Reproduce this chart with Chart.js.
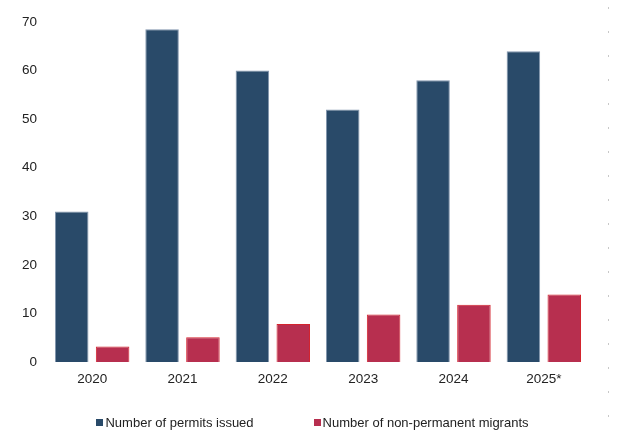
<!DOCTYPE html>
<html>
<head>
<meta charset="utf-8">
<script src="https://cdn.jsdelivr.net/npm/chart.js@4"></script>
<style>
  html, body { margin: 0; padding: 0; background: #fff; }
  #wrap { position: relative; width: 619px; height: 435px; overflow: hidden; }
  #rule {
    position: absolute; left: 608px; top: 0; width: 1px; height: 435px;
    background: repeating-linear-gradient(to bottom, transparent 0 7px, #c8c8c8 7px 9px, transparent 9px 24px);
  }
  #legend {
    position: absolute; top: 415px; left: 3px; width: 619px;
    display: flex; justify-content: center; gap: 60px;
    font: 13px "Liberation Sans", Arial, sans-serif; color: #222;
  }
  #legend span { display: inline-flex; align-items: center; }
  #legend i { display: inline-block; width: 7px; height: 7px; margin-right: 2px; }
</style>
</head>
<body>
<div id="wrap">
  <canvas id="permitsChart" width="619" height="435"></canvas>
  <div id="rule"></div>
  <div id="legend"></div>
</div>
<script>
  const years = ['2020', '2021', '2022', '2023', '2024', '2025*'];
  const permitsIssued = [31, 68.5, 60, 52, 58, 64];
  const nonPermanent = [3.2, 5.1, 7.8, 9.8, 11.8, 13.9];
  const yTicks = [0, 10, 20, 30, 40, 50, 60, 70];

  const series = [
    { label: 'Number of permits issued', data: permitsIssued, fill: '#294a69', edge: '#8296ae' },
    { label: 'Number of non-permanent migrants', data: nonPermanent, fill: '#b72f4f', edge: '#d4242e' }
  ];

  // simple html legend under the chart
  document.getElementById('legend').innerHTML = series
    .map(s => `<span><i style="background:${s.fill}"></i>${s.label}</span>`)
    .join('');

  const tickFont = { family: '"Liberation Sans", Arial, sans-serif', size: 13.5 };

  const ctx = document.getElementById('permitsChart').getContext('2d');
  const permitsChart = new Chart(ctx, {
    type: 'bar',
    data: {
      labels: years,
      datasets: series.map(s => ({
        label: s.label,
        data: s.data,
        backgroundColor: s.fill,
        borderColor: s.edge,
        borderWidth: 1,
        barPercentage: 0.82,
        categoryPercentage: 0.905
      }))
    },
    options: {
      responsive: false,
      animation: false,
      layout: { padding: { top: 22, left: 19, right: 30, bottom: 43 } },
      plugins: {
        legend: { display: false },
        tooltip: { enabled: false }
      },
      scales: {
        x: {
          grid: { display: false, drawTicks: false },
          border: { display: false },
          ticks: { color: '#222', font: tickFont, padding: 9 },
          afterFit: s => { s.height = 30; }
        },
        y: {
          min: 0,
          max: 70,
          afterBuildTicks: s => { s.ticks = yTicks.map(v => ({ value: v })); },
          afterFit: s => { s.width = 28; },
          grid: { display: false, drawTicks: false },
          border: { display: false },
          ticks: { color: '#222', font: tickFont, padding: 10 }
        }
      }
    }
  });
</script>
</body>
</html>
